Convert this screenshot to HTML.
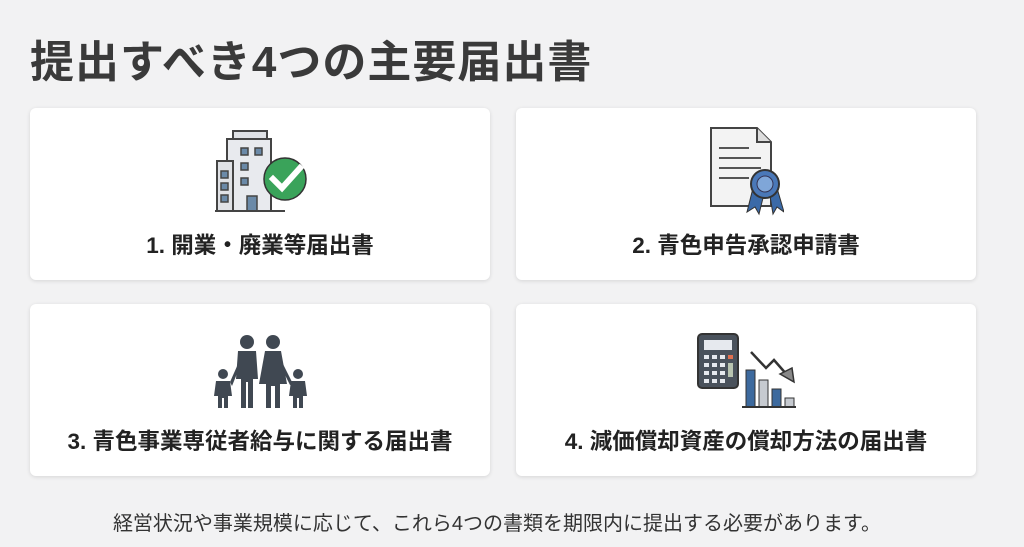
<!DOCTYPE html><html><head><meta charset="utf-8"><style>
body{margin:0;width:1024px;height:547px;background:#f2f2f3;font-family:"Liberation Sans","Noto Sans CJK JP",sans-serif;position:relative;overflow:hidden}
h1{position:absolute;left:30px;top:26px;margin:0;font-size:44px;font-weight:bold;color:#3a3a3a;letter-spacing:1px}
.card{position:absolute;width:460px;height:172px;background:#fff;border-radius:6px;box-shadow:0 1px 4px rgba(0,0,0,.12)}
.lbl{position:absolute;left:0;right:0;top:120px;text-align:center;font-size:22.5px;font-weight:bold;color:#222}
svg{position:absolute}
.foot{position:absolute;left:0;width:994px;top:507px;text-align:center;font-size:20px;color:#333}
</style></head><body>
<h1>提出すべき4つの主要届出書</h1>
<div class="card" style="left:30px;top:108px">
<svg style="left:185px;top:18px" width="95" height="88" viewBox="0 0 95 88">
<rect x="18" y="5" width="34" height="8" fill="#dfe1e5" stroke="#444" stroke-width="2"/>
<rect x="12" y="13" width="44" height="72" fill="#e8eaee" stroke="#444" stroke-width="2"/>
<rect x="2" y="35" width="16" height="50" fill="#e0e2e6" stroke="#444" stroke-width="2"/>
<g fill="#6b8aa8" stroke="#444" stroke-width="1.5"><rect x="26" y="22" width="7" height="7"/><rect x="40" y="22" width="7" height="7"/><rect x="26" y="37" width="7" height="7"/><rect x="26" y="52" width="7" height="7"/><rect x="6" y="45" width="7" height="7"/><rect x="6" y="57" width="7" height="7"/><rect x="6" y="69" width="7" height="7"/><rect x="32" y="70" width="10" height="15"/></g>
<line x1="0" y1="85" x2="70" y2="85" stroke="#444" stroke-width="2"/>
<circle cx="70" cy="53" r="21" fill="#3aa35a" stroke="#333" stroke-width="1.5"/>
<path d="M58 53 L67 62 L85 42" fill="none" stroke="#fff" stroke-width="6" stroke-linecap="square"/>
</svg>
<div class="lbl">1. 開業・廃業等届出書</div></div>
<div class="card" style="left:516px;top:108px">
<svg style="left:193px;top:18px" width="75" height="90" viewBox="0 0 75 90">
<path d="M2 2 H48 L62 16 V80 H2 Z" fill="#f3f3f3" stroke="#444" stroke-width="2"/>
<path d="M48 2 V16 H62" fill="#ddd" stroke="#444" stroke-width="2"/>
<g stroke="#555" stroke-width="2"><line x1="10" y1="22" x2="40" y2="22"/><line x1="10" y1="32" x2="52" y2="32"/><line x1="10" y1="42" x2="52" y2="42"/><line x1="10" y1="52" x2="40" y2="52"/></g>
<path d="M44 62 L38 86 L46 81 L50 88 L56 64 Z M60 64 L64 88 L68 81 L75 86 L68 62Z" fill="#3b6aa8" stroke="#333" stroke-width="1"/>
<circle cx="56" cy="58" r="14" fill="#4a78b8" stroke="#333" stroke-width="2"/><circle cx="56" cy="58" r="8" fill="#7fa6d8" stroke="#335" stroke-width="1"/>
</svg>
<div class="lbl">2. 青色申告承認申請書</div></div>
<div class="card" style="left:30px;top:304px">
<svg style="left:183px;top:30px" width="96" height="76" viewBox="0 0 96 76">
<g fill="#404852">
<circle cx="34" cy="8" r="7"/><path d="M25 17 H43 L45 45 H40 V74 H35 V48 H33 V74 H28 V45 H23 Z"/>
<circle cx="60" cy="8" r="7"/><path d="M52 17 H68 L74 50 H67 V74 H62 V52 H58 V74 H53 V50 H46 Z"/>
<circle cx="10" cy="40" r="5"/><path d="M3 47 H17 L19 62 H15 V74 H11 V64 H9 V74 H5 V62 H1 Z"/>
<circle cx="85" cy="40" r="5"/><path d="M78 47 H92 L94 62 H90 V74 H86 V64 H84 V74 H80 V62 H76 Z"/>
<path d="M17 48 L25 30 L27 32 L19 52Z M70 30 L80 50 L77 51 L68 33Z"/></g>
</svg>
<div class="lbl">3. 青色事業専従者給与に関する届出書</div></div>
<div class="card" style="left:516px;top:304px">
<svg style="left:180px;top:28px" width="102" height="78" viewBox="0 0 102 78">
<rect x="2" y="2" width="40" height="54" rx="4" fill="#4a525c" stroke="#333" stroke-width="2"/>
<rect x="8" y="8" width="28" height="10" fill="#e6e9ee"/>
<g fill="#e6e9ee"><rect x="8" y="23" width="5" height="4"/><rect x="16" y="23" width="5" height="4"/><rect x="24" y="23" width="5" height="4"/><rect x="32" y="23" width="5" height="4" fill="#e07050"/><rect x="8" y="31" width="5" height="4"/><rect x="16" y="31" width="5" height="4"/><rect x="24" y="31" width="5" height="4"/><rect x="8" y="39" width="5" height="4"/><rect x="16" y="39" width="5" height="4"/><rect x="24" y="39" width="5" height="4"/><rect x="32" y="31" width="5" height="14" fill="#b8c4b0"/><rect x="8" y="47" width="5" height="4"/><rect x="16" y="47" width="5" height="4"/><rect x="24" y="47" width="5" height="4"/></g>
<rect x="50" y="38" width="9" height="37" fill="#3d6a9e" stroke="#333"/>
<rect x="63" y="48" width="9" height="27" fill="#c6cad0" stroke="#333"/>
<rect x="76" y="57" width="9" height="18" fill="#3d6a9e" stroke="#333"/>
<rect x="89" y="66" width="9" height="9" fill="#c6cad0" stroke="#333"/>
<line x1="46" y1="75" x2="100" y2="75" stroke="#333" stroke-width="2"/>
<path d="M55 20 L70 36 L78 28 L92 44" fill="none" stroke="#333" stroke-width="2.5"/>
<path d="M84 42 L98 50 L96 36 Z" fill="#888" stroke="#333" stroke-width="1.5"/>
</svg>
<div class="lbl">4. 減価償却資産の償却方法の届出書</div></div>
<div class="foot">経営状況や事業規模に応じて、これら4つの書類を期限内に提出する必要があります。</div>
</body></html>
